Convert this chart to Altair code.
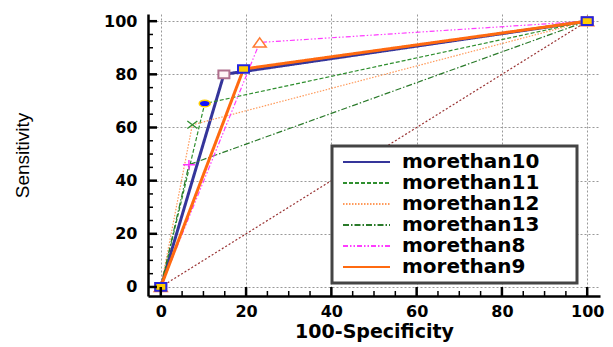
import altair as alt
import pandas as pd

# ---- data ----
series = ["morethan10", "morethan11", "morethan12", "morethan13", "morethan8", "morethan9"]
fpr_10 = [0, 14.8, 100]
tpr_10 = [0, 80, 100]
fpr_11 = [0, 10.3, 100]
tpr_11 = [0, 69, 100]
fpr_12 = [0, 7.4, 100]
tpr_12 = [0, 61, 100]
fpr_13 = [0, 6.6, 100]
tpr_13 = [0, 46, 100]
fpr_8 = [0, 23.2, 100]
tpr_8 = [0, 92, 100]
fpr_9 = [0, 19.4, 100]
tpr_9 = [0, 82, 100]
diag_x = [0, 100]
diag_y = [0, 100]
tick_labels = [0, 20, 40, 60, 80, 100]
minor_ticks = [5, 10, 15, 25, 30, 35, 45, 50, 55, 65, 70, 75, 85, 90, 95]

# ---- styles ----
colors = ["#35359a", "#2f8f2f", "#ff9a5a", "#2a7a2a", "#ff3cff", "#ff6a10"]
dashes = [[1, 0], [4, 2], [1.5, 1.5], [6, 2, 1.5, 2], [5, 2, 1.5, 2, 1.5, 2], [1, 0]]
thick_series = ["morethan10", "morethan9"]

rect = "M-1,-0.7L1,-0.7L1,0.7L-1,0.7Z"
tri = "M0,-0.7L1,0.7L-1,0.7Z"
ell = "M-1,0A1,0.6,0,1,0,1,0A1,0.6,0,1,0,-1,0Z"
xmark = "M-1,-0.75L1,0.75M-1,0.75L1,-0.75"
plus = "M-1,0L1,0M0,-0.8L0,0.8"
markers = {
    "morethan10": dict(shape=rect, fill="#fff4f6", stroke="#b0708e", size=121, strokeWidth=2, filled=True),
    "morethan11": dict(shape=ell, fill="#1010ff", stroke="#ffcc00", size=121, strokeWidth=1.5, filled=True),
    "morethan12": dict(shape=xmark, stroke="#2f8f2f", size=100, strokeWidth=1.3, filled=False),
    "morethan13": dict(shape=plus, stroke="#ff33ff", size=144, strokeWidth=1.5, filled=False),
    "morethan8": dict(shape=tri, fill="#ffffff", stroke="#ff7a33", size=169, strokeWidth=1.5, filled=True),
    "morethan9": dict(shape=rect, fill="#ffcc00", stroke="#2424e0", size=121, strokeWidth=2, filled=True),
}

fprs = [fpr_10, fpr_11, fpr_12, fpr_13, fpr_8, fpr_9]
tprs = [tpr_10, tpr_11, tpr_12, tpr_13, tpr_8, tpr_9]
rows = []
for s, xs, ys in zip(series, fprs, tprs):
    for a, b in zip(xs, ys):
        rows.append({"series": s, "fpr": a, "tpr": b})
df = pd.DataFrame(rows)

W, H = 452, 282
xscale = alt.Scale(domain=[-3, 103], nice=False, zero=False)
yscale = alt.Scale(domain=[-3.4, 102.7], nice=False, zero=False)

lab_font = "DejaVu Sans"
xaxis = alt.Axis(values=tick_labels, grid=True, ticks=False, tickSize=0, labelPadding=7,
                 labelFont=lab_font, labelFontSize=16, labelFontWeight="bold", labelColor="black",
                 domainColor="black", domainWidth=2.5, title="100-Specificity",
                 titleFont=lab_font, titleFontSize=19, titleFontWeight="bold", titleColor="black",
                 titleX=226, titleY=41, titleBaseline="alphabetic", titleAlign="center")
yaxis = alt.Axis(values=tick_labels, grid=True, ticks=False, tickSize=0, labelPadding=11,
                 labelFont=lab_font, labelFontSize=16, labelFontWeight="bold", labelColor="black",
                 domainColor="black", domainWidth=2.5, title="Sensitivity",
                 titleFont="Liberation Sans", titleFontSize=19, titleFontWeight="normal", titleColor="black",
                 titleX=-126, titleY=141, titleBaseline="middle", titleAlign="center", titleAngle=270)

# long legend line drawn as a custom path from a small symbol size
legend_line = "M-1,0L8.4,0"
pad_sp = "\u2800" * 2
legend = alt.Legend(title=None, orient="none", legendX=184, legendY=132,
                    symbolType=legend_line, symbolSize=100, symbolStrokeWidth=2,
                    labelFont=lab_font, labelFontSize=20, labelFontWeight="bold", labelColor="black",
                    labelOffset=44, labelLimit=400, padding=6, rowPadding=1,
                    strokeColor="#444444", fillColor="white",
                    labelExpr="datum.label + '" + pad_sp + "'")

X = alt.X("fpr:Q", scale=xscale, axis=xaxis)
Y = alt.Y("tpr:Q", scale=yscale, axis=yaxis)

diag = alt.Chart(pd.DataFrame({"fpr": diag_x, "tpr": diag_y})).mark_line(
    color="#993333", strokeDash=[2, 2], strokeWidth=1.2
).encode(x=X, y=Y)

thick_test = " || ".join("datum.series == '%s'" % s for s in thick_series)
lines = alt.Chart(df).mark_line().encode(
    x=X, y=Y,
    color=alt.Color("series:N", scale=alt.Scale(domain=series, range=colors), legend=legend),
    strokeDash=alt.StrokeDash("series:N", scale=alt.Scale(domain=series, range=dashes), legend=legend),
    strokeWidth=alt.condition(thick_test, alt.value(3), alt.value(1.2)),
)

point_layers = []
for s in series:
    m = markers[s]
    point_layers.append(
        alt.Chart(df[df.series == s]).mark_point(opacity=1, **m).encode(x=X, y=Y)
    )

maj = pd.DataFrame({"fpr": tick_labels, "tpr": tick_labels})
mnr = pd.DataFrame({"fpr": minor_ticks, "tpr": minor_ticks})
xt_maj = alt.Chart(maj).mark_rule(color="black", strokeWidth=2.5).encode(
    x=X, y=alt.value(H), y2=alt.value(H - 9))
xt_min = alt.Chart(mnr).mark_rule(color="black", strokeWidth=1.5).encode(
    x=X, y=alt.value(H), y2=alt.value(H - 5))
yt_maj = alt.Chart(maj).mark_rule(color="black", strokeWidth=2.5).encode(
    y=Y, x=alt.value(0), x2=alt.value(9))
yt_min = alt.Chart(mnr).mark_rule(color="black", strokeWidth=1.5).encode(
    y=Y, x=alt.value(0), x2=alt.value(5))

chart = alt.layer(diag, lines, *point_layers, xt_maj, xt_min, yt_maj, yt_min).properties(
    width=W, height=H,
    autosize=alt.AutoSizeParams(type="none"),
    padding={"left": 140, "top": 6, "right": 5, "bottom": 50},
).configure_view(stroke=None).configure_axis(
    gridColor="#999999", gridDash=[2, 2], gridWidth=1, gridOpacity=1
).configure_legend(strokeWidth=3)

chart.save("out.html", embed_options={"renderer": "svg", "actions": False})
